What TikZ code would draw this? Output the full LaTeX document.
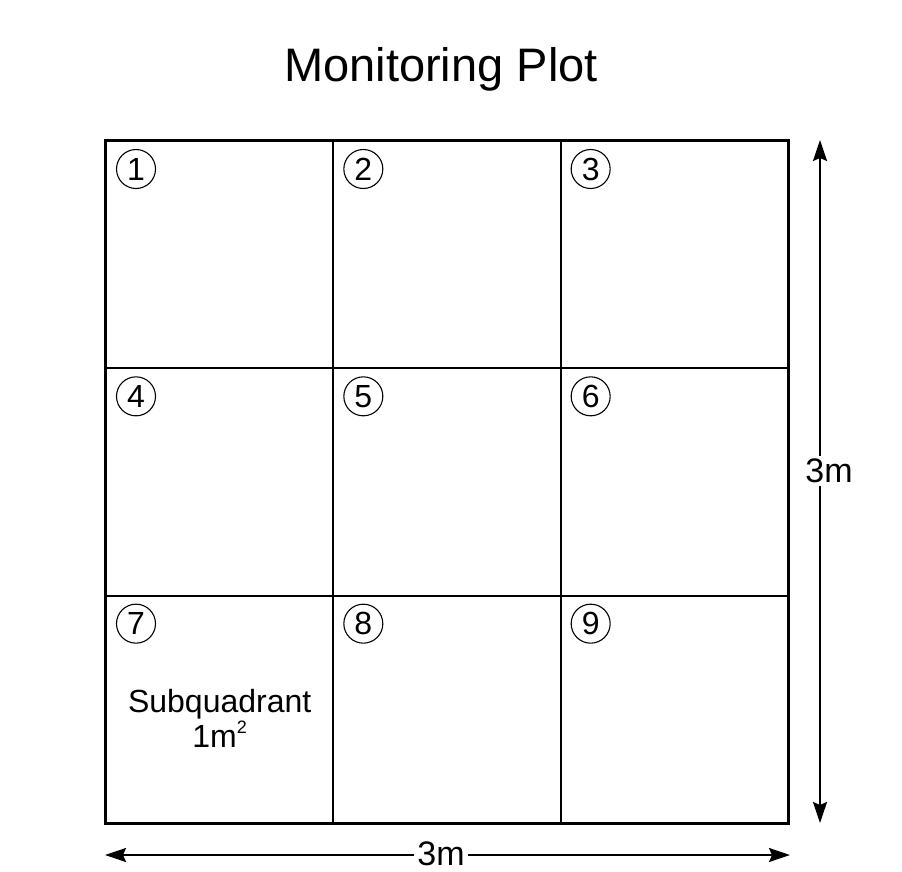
\documentclass[tikz,border=0pt]{standalone}
\usepackage{fontspec}
\setmainfont{Liberation Sans}
\usetikzlibrary{arrows.meta,calc}
\begin{document}
\begin{tikzpicture}[x=1pt,y=-1pt,
  cell/.style={draw=black,line width=2pt,minimum width=227.33pt,minimum height=227.33pt,inner sep=0pt},
  num/.style={circle,draw=black,line width=1.1pt,minimum size=39pt,inner sep=0pt,font=\fontsize{32}{32}\selectfont},
  dim/.style={line width=2pt,{Stealth[length=21pt,width=14pt,inset=3pt]}-{Stealth[length=21pt,width=14pt,inset=3pt]}},
  dimlabel/.style={fill=white,inner sep=3pt,font=\fontsize{34}{34}\selectfont}]
\useasboundingbox (0,0) rectangle (902,872);
\fill[white] (0,0) rectangle (902,872);
\node[font=\fontsize{47}{47}\selectfont] (title) at (441,69) {Monitoring Plot};
% cells
\foreach \r in {0,1,2}{
  \foreach \c in {0,1,2}{
    \pgfmathtruncatemacro{\n}{3*\r+\c+1}
    \node[cell] (c\n) at ({106+113.67+227.33*\c},{141+113.67+227.33*\r}) {};
    \node[num] (n\n) at ($(c\n.north west)+(31,29)$) {\n};
  }
}
\draw[line width=2.8pt] (c1.north west) rectangle (c9.south east);
\node[align=center,font=\fontsize{32}{35}\selectfont] (sub) at ($(c7.center)+(0,9)$) {Subquadrant\\1m\raisebox{0.45em}{\fontsize{18}{18}\selectfont 2}};
% dimensions
\coordinate (vt) at (820,140);
\coordinate (vb) at (820,823);
\coordinate (hl) at (105,855);
\coordinate (hr) at (790,855);
\draw[dim] (vt) -- (vb);
\draw[dim] (hl) -- (hr);
\node[dimlabel] (vlab) at (829,471) {3m};
\node[dimlabel] (hlab) at (441,854) {3m};
\end{tikzpicture}
\end{document}
